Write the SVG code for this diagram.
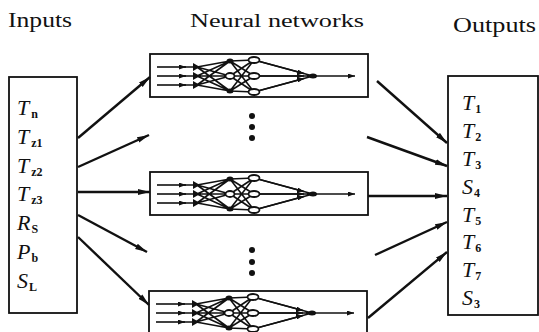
<svg xmlns="http://www.w3.org/2000/svg" xmlns:xlink="http://www.w3.org/1999/xlink" width="539" height="332" viewBox="0 0 539 332">
  <style>
    .title { font-family: "Liberation Serif", "DejaVu Serif", serif; fill: #111; }
    .var { font-family: "Liberation Serif", "DejaVu Serif", serif; font-style: italic; font-size: 22px; fill: #111; }
    .sub { font-family: "Liberation Serif", "DejaVu Serif", serif; font-style: normal; font-size: 12px; font-weight: bold; }
    .frame { fill: #fff; stroke: #111; stroke-width: 1.8; }
    .conn { fill: none; stroke: #111; stroke-width: 2.4; marker-end: url(#arrow); }
    .wire { fill: none; stroke: #111; stroke-width: 1.6; }
    .wire-in { fill: none; stroke: #111; stroke-width: 1.6; marker-end: url(#tick); }
    .neuron { fill: #fff; stroke: #111; stroke-width: 1.8; }
    .dot { fill: #111; }
  </style>
  <defs>
    <marker id="arrow" markerUnits="userSpaceOnUse" markerWidth="13" markerHeight="7" refX="12" refY="3.5" orient="auto">
      <path d="M0,0.6 L12,3.5 L0,6.4 z" fill="#111"/>
    </marker>
    <marker id="tick" markerUnits="userSpaceOnUse" markerWidth="8" markerHeight="5" refX="7" refY="2.5" orient="auto">
      <path d="M0,0 L7,2.5 L0,5 z" fill="#111"/>
    </marker>
    <!-- one small feed-forward network drawn in its own 218x43 frame -->
    <g id="net">
      <rect class="frame" x="0" y="0" width="218" height="43"/>
      <!-- three input lines -->
      <path class="wire-in" d="M7,13 L36,13"/>
      <path class="wire-in" d="M7,22 L36,22"/>
      <path class="wire-in" d="M7,31 L36,31"/>
      <path class="wire" d="M34,13 L47,13 M34,22 L47,22 M34,31 L47,31"/>
      <!-- input layer to first hidden layer -->
      <path class="wire" d="M47,13 L80,7 M47,13 L80,22 M47,13 L80,37 M47,22 L80,7 M47,22 L80,22 M47,22 L80,37 M47,31 L80,7 M47,31 L80,22 M47,31 L80,37"/>
      <!-- first hidden layer to second hidden layer -->
      <path class="wire" d="M80,7 L104,6 M80,7 L104,22 M80,7 L104,38 M80,22 L104,6 M80,22 L104,22 M80,22 L104,38 M80,37 L104,6 M80,37 L104,22 M80,37 L104,38"/>
      <!-- second hidden layer to output node -->
      <path class="wire" d="M104,6 L163,22 M104,22 L163,22 M104,38 L163,22"/>
      <path class="wire-in" d="M104,6 L154,19.6"/>
      <path class="wire-in" d="M104,38 L154,24.4"/>
      <path class="wire-in" d="M104,22 L154,22"/>
      <!-- output line -->
      <path class="wire-in" d="M163,22 L205,22"/>
      <!-- neurons -->
      <path class="dot" d="M43,9 L50,13 L43,17 z M43,18 L50,22 L43,26 z M43,27 L50,31 L43,35 z"/>
      <ellipse class="dot" cx="80" cy="7" rx="3.5" ry="2.5"/>
      <ellipse class="neuron" cx="80" cy="22" rx="4.5" ry="3"/>
      <ellipse class="dot" cx="80" cy="37" rx="3.5" ry="2.5"/>
      <ellipse class="neuron" cx="104" cy="6" rx="5.5" ry="3"/>
      <ellipse class="neuron" cx="104" cy="22" rx="5.5" ry="3"/>
      <ellipse class="neuron" cx="104" cy="38" rx="5.5" ry="3"/>
      <ellipse class="dot" cx="163" cy="22" rx="4" ry="2.5"/>
    </g>
  </defs>

  <!-- headings -->
  <text class="title" x="8" y="27" font-size="21" textLength="64" lengthAdjust="spacingAndGlyphs">Inputs</text>
  <text class="title" x="190" y="27" font-size="18" textLength="174" lengthAdjust="spacingAndGlyphs">Neural  networks</text>
  <text class="title" x="453" y="32" font-size="21" textLength="83" lengthAdjust="spacingAndGlyphs">Outputs</text>

  <!-- input variables -->
  <g id="inputs">
    <rect class="frame" x="9" y="77" width="68" height="236"/>
    <text class="var" x="17" y="115">T<tspan class="sub" dx="2" dy="3">n</tspan></text>
    <text class="var" x="17" y="144">T<tspan class="sub" dx="2" dy="3">z1</tspan></text>
    <text class="var" x="17" y="173">T<tspan class="sub" dx="2" dy="3">z2</tspan></text>
    <text class="var" x="17" y="201">T<tspan class="sub" dx="2" dy="3">z3</tspan></text>
    <text class="var" x="17" y="230">R<tspan class="sub" dx="1" dy="3">S</tspan></text>
    <text class="var" x="17" y="259">P<tspan class="sub" dx="1" dy="3">b</tspan></text>
    <text class="var" x="17" y="288">S<tspan class="sub" dx="1" dy="3">L</tspan></text>
  </g>

  <!-- network blocks -->
  <g id="net-1"><use xlink:href="#net" href="#net" x="150" y="54"/></g>
  <g id="net-2"><use xlink:href="#net" href="#net" x="150" y="172"/></g>
  <g id="net-3"><use xlink:href="#net" href="#net" x="149" y="291"/></g>

  <!-- vertical ellipses between blocks -->
  <g id="ellipsis-1">
    <circle class="dot" cx="252" cy="116" r="3"/>
    <circle class="dot" cx="252" cy="127" r="3"/>
    <circle class="dot" cx="252" cy="138" r="3"/>
  </g>
  <g id="ellipsis-2">
    <circle class="dot" cx="252" cy="250" r="3"/>
    <circle class="dot" cx="252" cy="262" r="3"/>
    <circle class="dot" cx="252" cy="273" r="3"/>
  </g>

  <!-- output variables -->
  <g id="outputs">
    <rect class="frame" x="448" y="76" width="90" height="239"/>
    <text class="var" x="462" y="110">T<tspan class="sub" dx="1" dy="3">1</tspan></text>
    <text class="var" x="462" y="138">T<tspan class="sub" dx="1" dy="3">2</tspan></text>
    <text class="var" x="462" y="166">T<tspan class="sub" dx="1" dy="3">3</tspan></text>
    <text class="var" x="462" y="194">S<tspan class="sub" dx="1" dy="3">4</tspan></text>
    <text class="var" x="462" y="222">T<tspan class="sub" dx="1" dy="3">5</tspan></text>
    <text class="var" x="462" y="249">T<tspan class="sub" dx="1" dy="3">6</tspan></text>
    <text class="var" x="462" y="277">T<tspan class="sub" dx="1" dy="3">7</tspan></text>
    <text class="var" x="462" y="305">S<tspan class="sub" dx="1" dy="3">3</tspan></text>
  </g>

  <!-- connectors -->
  <g id="connectors">
    <path class="conn" d="M78,138 L150,77"/>
    <path class="conn" d="M78,167 L149,135"/>
    <path class="conn" d="M78,192 L150,192"/>
    <path class="conn" d="M78,215 L147,252"/>
    <path class="conn" d="M78,237 L149,305"/>
    <path class="conn" d="M377,81 L447,143"/>
    <path class="conn" d="M367,137 L447,166"/>
    <path class="conn" d="M368,196 L447,196"/>
    <path class="conn" d="M375,255 L447,222"/>
    <path class="conn" d="M368,318 L447,252"/>
  </g>
</svg>
